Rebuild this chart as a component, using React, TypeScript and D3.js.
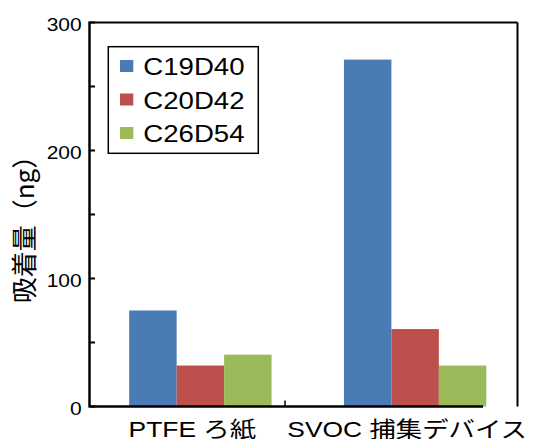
import React from "react";
import * as d3 from "d3";

const categories = ["PTFE ろ紙", "SVOC 捕集デバイス"];
const seriesNames = ["C19D40", "C20D42", "C26D54"];
const seriesColors = ["#4A7BB4", "#BD4F4C", "#9BBA5A"];
const valuesC19D40 = [75, 271];
const valuesC20D42 = [32, 60.5];
const valuesC26D54 = [40.5, 32];
const majorTicks = [0, 100, 200, 300];
const minorTicks = [50, 150, 250];
const yTitle = "吸着量（ng）";

const seriesValues = [valuesC19D40, valuesC20D42, valuesC26D54];

const W = 533;
const H = 439;
const left = 89.5;
const right = 517.5;
const top = 22.5;
const bottom = 406.5;
const FONT = "'Liberation Sans', Arial, 'Noto Sans CJK JP', sans-serif";
const SX = 1.2;

export default function App() {
  const y = d3.scaleLinear().domain([0, 300]).range([bottom, top]);
  const x0 = d3
    .scaleBand<string>()
    .domain(categories)
    .range([left, right])
    .paddingInner(0.337)
    .paddingOuter(0.165)
    .align(0.56);
  const x1 = d3
    .scaleBand<string>()
    .domain(seriesNames)
    .range([0, x0.bandwidth()])
    .padding(0);

  const sepX = 285;

  return (
    <svg
      width={W}
      height={H}
      style={{ position: "absolute", left: 0, top: 0, background: "#fff" }}
      fontFamily={FONT}
    >
      <rect x={0} y={0} width={W} height={H} fill="#fff" />
      {/* bars */}
      {categories.map((c, ci) =>
        seriesNames.map((s, si) => {
          const v = seriesValues[si][ci];
          return (
            <rect
              key={c + s}
              x={(x0(c) as number) + (x1(s) as number)}
              y={y(v)}
              width={x1.bandwidth()}
              height={y(0) - y(v)}
              fill={seriesColors[si]}
            />
          );
        })
      )}
      {/* frame */}
      <line x1={left} y1={top} x2={right} y2={top} stroke="#000" strokeWidth={2} />
      <line x1={right} y1={top} x2={right} y2={bottom} stroke="#000" strokeWidth={2} />
      <line x1={left} y1={top - 1} x2={left} y2={bottom + 1} stroke="#000" strokeWidth={2.5} />
      <line x1={left} y1={bottom} x2={483} y2={bottom} stroke="#000" strokeWidth={2.5} />
      <line x1={sepX} y1={bottom} x2={sepX} y2={bottom - 6} stroke="#000" strokeWidth={1.5} />
      {/* y ticks */}
      {majorTicks.concat(minorTicks).map((t) => (
        <line key={"t" + t} x1={left} x2={left + 5.5} y1={y(t)} y2={y(t)} stroke="#000" strokeWidth={2} />
      ))}
      {majorTicks.map((t) => (
        <text
          key={"l" + t}
          transform={`translate(81.7,${y(t) + 8.5}) scale(${SX},1)`}
          textAnchor="end"
          fontSize={17.5}
          fill="#000"
        >
          {t}
        </text>
      ))}
      {/* y title */}
      <text
        transform={`translate(34,223) rotate(-90)`}
        textAnchor="middle"
        fontSize={26}
        fontFamily="'Noto Sans CJK JP', sans-serif"
        fill="#000"
      >
        {yTitle}
      </text>
      {/* category labels */}
      {categories.map((c) => (
        <text
          key={"c" + c}
          transform={`translate(${(x0(c) as number) + x0.bandwidth() / 2 - 8},436.5) scale(${SX},1)`}
          textAnchor="middle"
          fontSize={22}
          fill="#000"
        >
          {c}
        </text>
      ))}
      {/* legend */}
      <rect x={108.3} y={46.7} width={150} height={106.6} fill="#fff" stroke="#000" strokeWidth={1.5} />
      {seriesNames.map((s, i) => {
        const cy = 66 + i * 33.5;
        return (
          <g key={"lg" + s}>
            <rect x={120} y={cy - 6} width={13.3} height={12} fill={seriesColors[i]} />
            <text
              transform={`translate(143.3,${cy + 9}) scale(${SX},1)`}
              fontSize={23}
              fill="#000"
            >
              {s}
            </text>
          </g>
        );
      })}
    </svg>
  );
}
